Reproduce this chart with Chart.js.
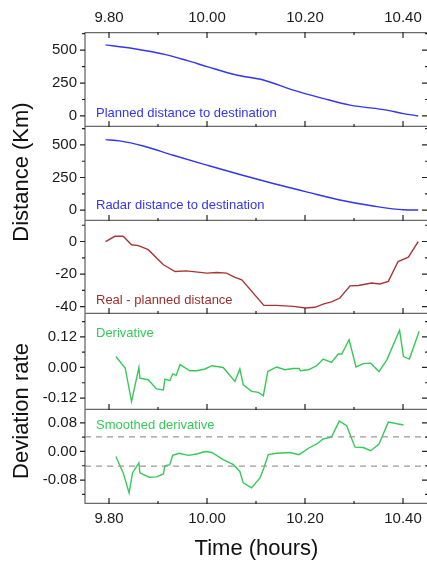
<!DOCTYPE html>
<html>
<head>
<meta charset="utf-8">
<script src="https://cdn.jsdelivr.net/npm/chart.js@4.4.1/dist/chart.umd.min.js"></script>
<style>
    html, body { margin: 0; padding: 0; background: #fff; }
    body { width: 427px; height: 562px; overflow: hidden; position: relative; font-family: "Liberation Sans", Arial, sans-serif; }
    canvas { position: absolute; left: 0; }
    .titulo-y { position: absolute; width: 240px; text-align: center; font-size: 22px; color: #111; transform: translate(-50%, -50%) rotate(-90deg); white-space: nowrap; }
</style>
</head>
<body>
<canvas id="painel1" width="430" height="127" style="top:0px"></canvas>
<canvas id="painel2" width="430" height="94" style="top:127px"></canvas>
<canvas id="painel3" width="430" height="93" style="top:221px"></canvas>
<canvas id="painel4" width="430" height="96" style="top:314px"></canvas>
<canvas id="painel5" width="430" height="152" style="top:410px"></canvas>
<div class="titulo-y" style="left:21px; top:172px">Distance (Km)</div>
<div class="titulo-y" style="left:21px; top:411px">Deviation rate</div>
<script>
var xRotulos = [9.8, 10.0, 10.2, 10.4];
var xTicks = [9.8, 9.9, 10.0, 10.1, 10.2, 10.3, 10.4];

var ticksDist = [0, 250, 500];
var ticksDif = [-40, -20, 0];
var ticksDeriv = [-0.12, 0, 0.12];
var ticksSuave = [-0.08, 0, 0.08];

var planTime = [9.793, 9.846, 9.918, 9.96, 10.0, 10.06, 10.115, 10.176, 10.237, 10.292, 10.367, 10.401, 10.431];
var planDist = [540, 515, 464, 420, 375, 311, 273, 196, 133, 82, 44, 18, 0];

var radarTime = [9.793, 9.822, 9.87, 9.931, 10.0, 10.067, 10.135, 10.203, 10.271, 10.339, 10.401, 10.431];
var radarDist = [541, 531, 492, 421, 345, 273, 204, 140, 77, 31, 2, 0];

var diffTime = [9.793, 9.812, 9.829, 9.846, 9.86, 9.88, 9.911, 9.935, 9.958, 10.0, 10.02, 10.04, 10.057, 10.071,
    10.116, 10.142, 10.176, 10.201, 10.22, 10.237, 10.254, 10.271, 10.292, 10.309, 10.336, 10.353, 10.37, 10.39, 10.411, 10.431];
var diffDist = [0, 3.2, 3.2, -2, -2.5, -5, -14.3, -18.4, -18, -19.4, -19, -19.4, -22, -23.5,
    -39.2, -39.2, -39.8, -40.8, -40.4, -38.4, -37.1, -34.7, -27.2, -27, -25.5, -26.1, -24.5, -12.3, -9.6, 0];

var derivTime = [9.814, 9.833, 9.846, 9.861, 9.863, 9.88, 9.897, 9.911, 9.914, 9.924, 9.93, 9.937, 9.945, 9.965,
    9.979, 9.996, 10.01, 10.033, 10.057, 10.067, 10.074, 10.091, 10.105, 10.115, 10.124, 10.142, 10.159, 10.176,
    10.188, 10.191, 10.207, 10.224, 10.237, 10.254, 10.268, 10.275, 10.29, 10.304, 10.319, 10.334, 10.351, 10.367,
    10.393, 10.401, 10.413, 10.433];
var derivValor = [0.043, -0.002, -0.134, 0.0, -0.042, -0.048, -0.084, -0.088, -0.046, -0.052, -0.025, -0.031, 0.011, -0.013,
    -0.013, -0.006, 0.007, 0.0, -0.055, -0.006, -0.068, -0.094, -0.098, -0.111, -0.016, 0.002, -0.009, -0.004,
    -0.004, -0.013, -0.009, 0.007, 0.033, 0.020, 0.053, 0.053, 0.109, 0.002, 0.015, 0.017, -0.016, 0.030,
    0.146, 0.043, 0.033, 0.142];

var suaveTime = [9.814, 9.829, 9.841, 9.848, 9.861, 9.863, 9.882, 9.897, 9.911, 9.914, 9.924, 9.93, 9.943, 9.962,
    9.979, 9.996, 10.01, 10.033, 10.054, 10.067, 10.074, 10.091, 10.108, 10.116, 10.125, 10.142, 10.169, 10.188,
    10.207, 10.224, 10.237, 10.254, 10.27, 10.285, 10.302, 10.319, 10.334, 10.351, 10.37, 10.401];
var suaveValor = [-0.014, -0.060, -0.116, -0.060, -0.032, -0.060, -0.072, -0.071, -0.063, -0.040, -0.037, -0.011, -0.005, -0.011,
    -0.007, 0.0, -0.003, -0.023, -0.037, -0.056, -0.088, -0.102, -0.074, -0.046, -0.009, -0.005, -0.003, -0.009,
    0.009, 0.021, 0.035, 0.040, 0.085, 0.072, 0.012, 0.011, 0.002, 0.021, 0.082, 0.074];

var limites = [0.041, -0.041];

var X_MIN = 9.751;
var X_MAX = 10.451;
var AZUL = '#3434f4';
var VERMELHO = '#a63636';
var VERDE = '#36c95a';
var FONTE = '"Liberation Sans", Arial, sans-serif';

function pontos(xs, ys) {
    return xs.map(function (x, i) { return { x: x, y: ys[i] }; });
}

function fixarTicks(valores) {
    return function (scale) {
        scale.ticks = valores.map(function (v) { return { value: v }; });
    };
}

var marcoPlugin = {
    id: 'marco',
    afterDraw: function (chart) {
        var o = chart.options.plugins.marco;
        var ctx = chart.ctx;
        var a = chart.chartArea;
        var xs = chart.scales.x;
        var ys = chart.scales.y;

        ctx.save();
        ctx.strokeStyle = '#6a6a6a';
        ctx.lineWidth = 1.3;

        ctx.beginPath();
        ctx.moveTo(a.left, a.top);
        ctx.lineTo(a.left, a.bottom);
        ctx.moveTo(a.right, a.top);
        ctx.lineTo(a.right, a.bottom);
        ctx.moveTo(a.left, a.bottom - 0.6);
        ctx.lineTo(a.right, a.bottom - 0.6);
        if (o.topo) {
            ctx.moveTo(a.left, a.top + 0.6);
            ctx.lineTo(a.right, a.top + 0.6);
        }
        ctx.stroke();

        ctx.strokeStyle = '#222';
        ctx.lineWidth = 1.2;
        ctx.beginPath();
        xTicks.forEach(function (t, i) {
            var px = xs.getPixelForValue(t);
            var len = i % 2 === 0 ? 6 : 3;
            ctx.moveTo(px, a.bottom);
            ctx.lineTo(px, a.bottom - len);
            if (o.topo) {
                ctx.moveTo(px, a.top);
                ctx.lineTo(px, a.top + len);
            }
        });

        var passo = o.passo / 2;
        var v = Math.ceil(ys.min / passo) * passo;
        for (; v <= ys.max; v += passo) {
            var py = ys.getPixelForValue(v);
            var maior = Math.abs(Math.round(v / passo)) % 2 === 0;
            var l = maior ? 5 : 3;
            ctx.moveTo(a.left - l, py);
            ctx.lineTo(a.left, py);
            ctx.moveTo(a.right - (maior ? 6 : 3), py);
            ctx.lineTo(a.right, py);
        }
        ctx.stroke();

        ctx.fillStyle = o.corTexto;
        ctx.font = '13px ' + FONTE;
        ctx.textBaseline = 'middle';
        ctx.textAlign = 'left';
        ctx.fillText(o.texto, a.left + 11, a.top + o.textoY);
        ctx.restore();
    }
};

function criarPainel(id, cfg) {
    var xEscala = {
        type: 'linear',
        min: X_MIN,
        max: X_MAX,
        display: !!cfg.eixoX,
        position: cfg.eixoX || 'bottom',
        grid: { display: false, drawTicks: false },
        border: { display: false },
        afterBuildTicks: fixarTicks(xRotulos),
        ticks: {
            padding: cfg.eixoX === 'top' ? 5 : 6,
            color: '#1a1a1a',
            font: { family: FONTE, size: 15 },
            maxRotation: 0,
            autoSkip: false,
            callback: function (val) { return val.toFixed(2); }
        },
        title: {
            display: !!cfg.tituloX,
            text: cfg.tituloX || '',
            color: '#111',
            font: { family: FONTE, size: 22 },
            padding: { top: 0, bottom: 0 }
        },
        afterFit: function (scale) {
            scale.height = cfg.alturaX || 0;
            scale.paddingLeft = 0;
            scale.paddingRight = 0;
        }
    };

    var datasets = [{
        data: pontos(cfg.xs, cfg.ys),
        borderColor: cfg.cor,
        borderWidth: 1.4,
        pointRadius: 0,
        fill: false,
        tension: cfg.suave ? 0.4 : 0,
        cubicInterpolationMode: cfg.suave ? 'monotone' : 'default'
    }];

    (cfg.linhas || []).forEach(function (y) {
        datasets.unshift({
            data: [{ x: X_MIN, y: y }, { x: X_MAX, y: y }],
            borderColor: '#9a9a9a',
            borderWidth: 1.2,
            borderDash: [6, 5],
            pointRadius: 0,
            fill: false
        });
    });

    return new Chart(document.getElementById(id), {
        type: 'line',
        data: { datasets: datasets },
        options: {
            responsive: false,
            animation: false,
            layout: { padding: { left: 0, right: 2, top: 0, bottom: 0 } },
            plugins: {
                legend: { display: false },
                tooltip: { enabled: false },
                marco: {
                    topo: cfg.eixoX === 'top',
                    passo: cfg.passo,
                    texto: cfg.texto,
                    textoY: cfg.textoY,
                    corTexto: cfg.corTexto || cfg.cor
                }
            },
            scales: {
                x: xEscala,
                y: {
                    type: 'linear',
                    min: cfg.yMin,
                    max: cfg.yMax,
                    grid: { display: false, drawTicks: false },
                    border: { display: false },
                    afterBuildTicks: fixarTicks(cfg.ticks),
                    ticks: {
                        padding: 8,
                        color: '#1a1a1a',
                        font: { family: FONTE, size: 15 },
                        callback: function (val) {
                            return cfg.casas ? val.toFixed(cfg.casas) : String(Math.round(val));
                        }
                    },
                    afterFit: function (scale) {
                        scale.width = 85;
                        scale.paddingTop = 0;
                        scale.paddingBottom = 0;
                    }
                }
            }
        },
        plugins: [marcoPlugin]
    });
}

criarPainel('painel1', {
    xs: planTime, ys: planDist, cor: AZUL, suave: true,
    yMin: -84, yMax: 638, passo: 250, ticks: ticksDist,
    eixoX: 'top', alturaX: 32,
    texto: 'Planned distance to destination', textoY: 81
});

criarPainel('painel2', {
    xs: radarTime, ys: radarDist, cor: AZUL, suave: true,
    yMin: -84, yMax: 638, passo: 250, ticks: ticksDist,
    texto: 'Radar distance to destination', textoY: 78.5
});

criarPainel('painel3', {
    xs: diffTime, ys: diffDist, cor: VERMELHO, corTexto: '#9c2e2e',
    yMin: -44.5, yMax: 12.6, passo: 20, ticks: ticksDif,
    texto: 'Real - planned distance', textoY: 79
});

criarPainel('painel4', {
    xs: derivTime, ys: derivValor, cor: VERDE,
    yMin: -0.167, yMax: 0.21, passo: 0.12, casas: 2, ticks: ticksDeriv,
    texto: 'Derivative', textoY: 19
});

criarPainel('painel5', {
    xs: suaveTime, ys: suaveValor, cor: VERDE, linhas: limites,
    yMin: -0.147, yMax: 0.116, passo: 0.08, casas: 2, ticks: ticksSuave,
    eixoX: 'bottom', alturaX: 58, tituloX: 'Time (hours)',
    texto: 'Smoothed derivative', textoY: 15.7
});
</script>
</body>
</html>
